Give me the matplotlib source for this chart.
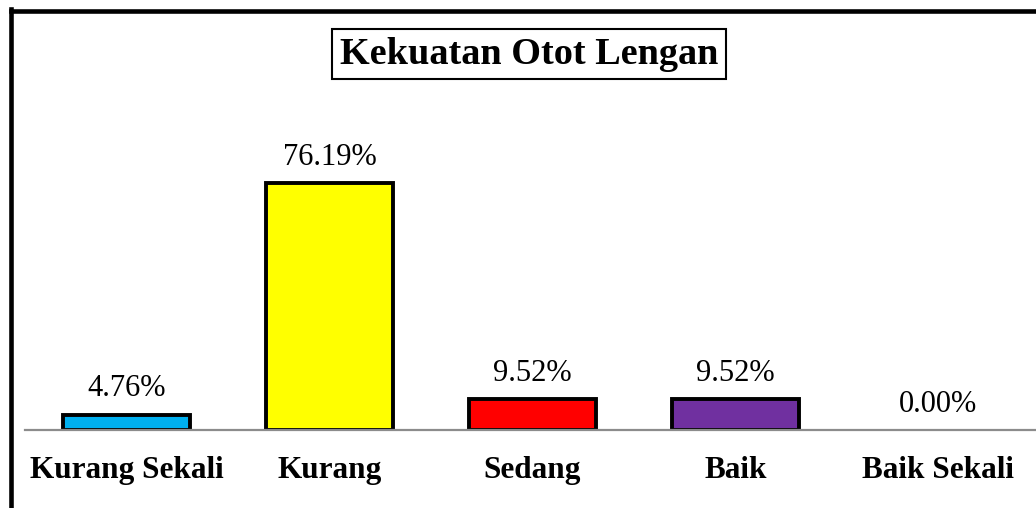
import matplotlib
matplotlib.use("Agg")
import matplotlib.pyplot as plt
from matplotlib.lines import Line2D

categories = ["Kurang Sekali", "Kurang", "Sedang", "Baik", "Baik Sekali"]
values = [4.76, 76.19, 9.52, 9.52, 0.00]
value_labels = ["4.76%", "76.19%", "9.52%", "9.52%", "0.00%"]
colors = ["#00B0F0", "#FFFF00", "#FF0000", "#7030A0", "#FFFFFF"]
title = "Kekuatan Otot Lengan"

W, H = 1036, 508
fig = plt.figure(figsize=(W / 100, H / 100), dpi=100)
plt.rcParams['font.family'] = ['Liberation Serif', 'DejaVu Serif']

base_y = 430
ymax = 90
px_per_unit = 247 / 76.19
ax_h = ymax * px_per_unit
ax = fig.add_axes([25 / W, (H - base_y) / H, 1015 / W, ax_h / H])
ax.set_xlim(-0.5, 4.5)
ax.set_ylim(0, ymax)

x = list(range(len(categories)))
for i, (v, c) in enumerate(zip(values, colors)):
    if v > 0:
        ax.bar(i, v, width=0.625, color=c, edgecolor="black", linewidth=2.8, zorder=2)

for i, (v, lab) in enumerate(zip(values, value_labels)):
    ax.annotate(lab, (i, v), xytext=(0, 8), textcoords="offset points",
                ha="center", va="bottom", fontsize=22, color="black")

for s in ["top", "right", "left"]:
    ax.spines[s].set_visible(False)
ax.spines["bottom"].set_color("#8c8c8c")
ax.spines["bottom"].set_linewidth(1.6)
ax.spines["bottom"].set_zorder(3)
ax.set_yticks([])
ax.set_xticks(x)
ax.set_xticklabels(categories, fontsize=22.5, fontweight="bold")
ax.tick_params(axis="x", length=0, pad=19)

fig.text(529 / W, 1 - 54 / H, title, ha="center", va="center", fontsize=27.5,
         fontweight="bold",
         bbox=dict(boxstyle="square,pad=0.2", facecolor="white", edgecolor="black", linewidth=1.5))

# outer frame (left and top edges)
fig.add_artist(Line2D([11 / W, 11 / W], [0, 1 - 9 / H], transform=fig.transFigure,
                      color="black", linewidth=3.3, solid_capstyle="projecting"))
fig.add_artist(Line2D([11 / W, 1], [1 - 11 / H, 1 - 11 / H], transform=fig.transFigure,
                      color="black", linewidth=3.3, solid_capstyle="projecting"))

fig.savefig("out.png", dpi=100)
